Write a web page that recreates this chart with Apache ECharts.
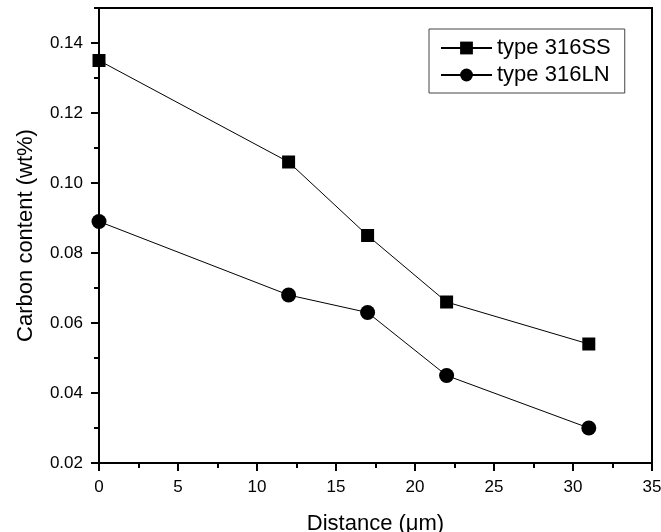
<!DOCTYPE html>
<html>
<head>
<meta charset="utf-8">
<script src="https://cdn.jsdelivr.net/npm/echarts@6/dist/echarts.min.js"></script>
<style>
html,body{margin:0;padding:0;background:#fff;}
#chart{width:661px;height:532px;}
</style>
</head>
<body>
<div id="chart"></div>
<script>
// Data
const distance = [0, 12, 17, 22, 31];
const carbon316SS = [0.135, 0.106, 0.085, 0.066, 0.054];
const carbon316LN = [0.089, 0.068, 0.063, 0.045, 0.030];
const seriesNames = ['type 316SS', 'type 316LN'];
const yMajorTicks = [0.02, 0.04, 0.06, 0.08, 0.10, 0.12, 0.14];
const xTitle = 'Distance (\u03bcm)';
const yTitle = 'Carbon content (wt%)';

const FONT = '"Liberation Sans", Arial, Helvetica, sans-serif';
const pairs = (xs, ys) => xs.map((x, i) => [x, ys[i]]);

const chart = echarts.init(document.getElementById('chart'), null, {renderer: 'canvas'});
chart.setOption({
  animation: false,
  backgroundColor: '#fff',
  grid: {
    left: 99, top: 8, right: 9, bottom: 69,
    containLabel: false, outerBoundsMode: 'none',
    show: true, borderColor: '#000', borderWidth: 2, backgroundColor: 'transparent'
  },
  legend: {
    left: 429, top: 29,
    orient: 'vertical',
    backgroundColor: '#fff',
    borderColor: '#444', borderWidth: 1, borderRadius: 0,
    padding: [8, 14, 7, 11],
    itemGap: 5,
    itemWidth: 51, itemHeight: 16, itemTextGap: 4,
    textStyle: {fontFamily: FONT, fontSize: 22, color: '#000'},
    data: seriesNames
  },
  xAxis: {
    type: 'value', min: 0, max: 35, interval: 5,
    name: xTitle, nameLocation: 'middle', nameGap: 50,
    nameTextStyle: {fontFamily: FONT, fontSize: 22, color: '#000'},
    axisLine: {show: true, onZero: false, lineStyle: {color: '#000', width: 2}},
    axisTick: {show: true, inside: false, length: 8, lineStyle: {color: '#000', width: 2}},
    minorTick: {show: true, splitNumber: 2, length: 5, lineStyle: {color: '#000', width: 2}},
    axisLabel: {fontFamily: FONT, fontSize: 17, color: '#000', margin: 16},
    splitLine: {show: false}
  },
  yAxis: [{
    type: 'value', min: 0.02, max: 0.15, interval: 0.01,
    name: yTitle, nameLocation: 'middle', nameGap: 62, nameRotate: 90,
    nameTextStyle: {fontFamily: FONT, fontSize: 22, color: '#000'},
    axisLine: {show: true, onZero: false, lineStyle: {color: '#000', width: 2}},
    axisTick: {show: true, inside: false, length: 5, lineStyle: {color: '#000', width: 2}},
    axisLabel: {
      fontFamily: FONT, fontSize: 17, color: '#000', margin: 16,
      formatter: function (v) {
        const k = Math.round(v * 100);
        return (k % 2 === 0 && k <= 14) ? (k / 100).toFixed(2) : '';
      }
    },
    splitLine: {show: false}
  }, {
    type: 'value', min: 0.02, max: 0.15, interval: 0.02, position: 'left',
    axisLine: {show: false},
    axisTick: {show: true, inside: false, length: 8, customValues: yMajorTicks, lineStyle: {color: '#000', width: 2}},
    axisLabel: {show: false},
    splitLine: {show: false}
  }],
  series: [{
    name: seriesNames[0], type: 'line', yAxisIndex: 0,
    data: pairs(distance, carbon316SS),
    symbol: 'rect', symbolSize: 13,
    lineStyle: {color: '#000', width: 1},
    itemStyle: {color: '#000'},
    clip: false, z: 3
  }, {
    name: seriesNames[1], type: 'line', yAxisIndex: 0,
    data: pairs(distance, carbon316LN),
    symbol: 'circle', symbolSize: 15,
    lineStyle: {color: '#000', width: 1},
    itemStyle: {color: '#000'},
    clip: false, z: 3
  }]
});
</script>
</body>
</html>
